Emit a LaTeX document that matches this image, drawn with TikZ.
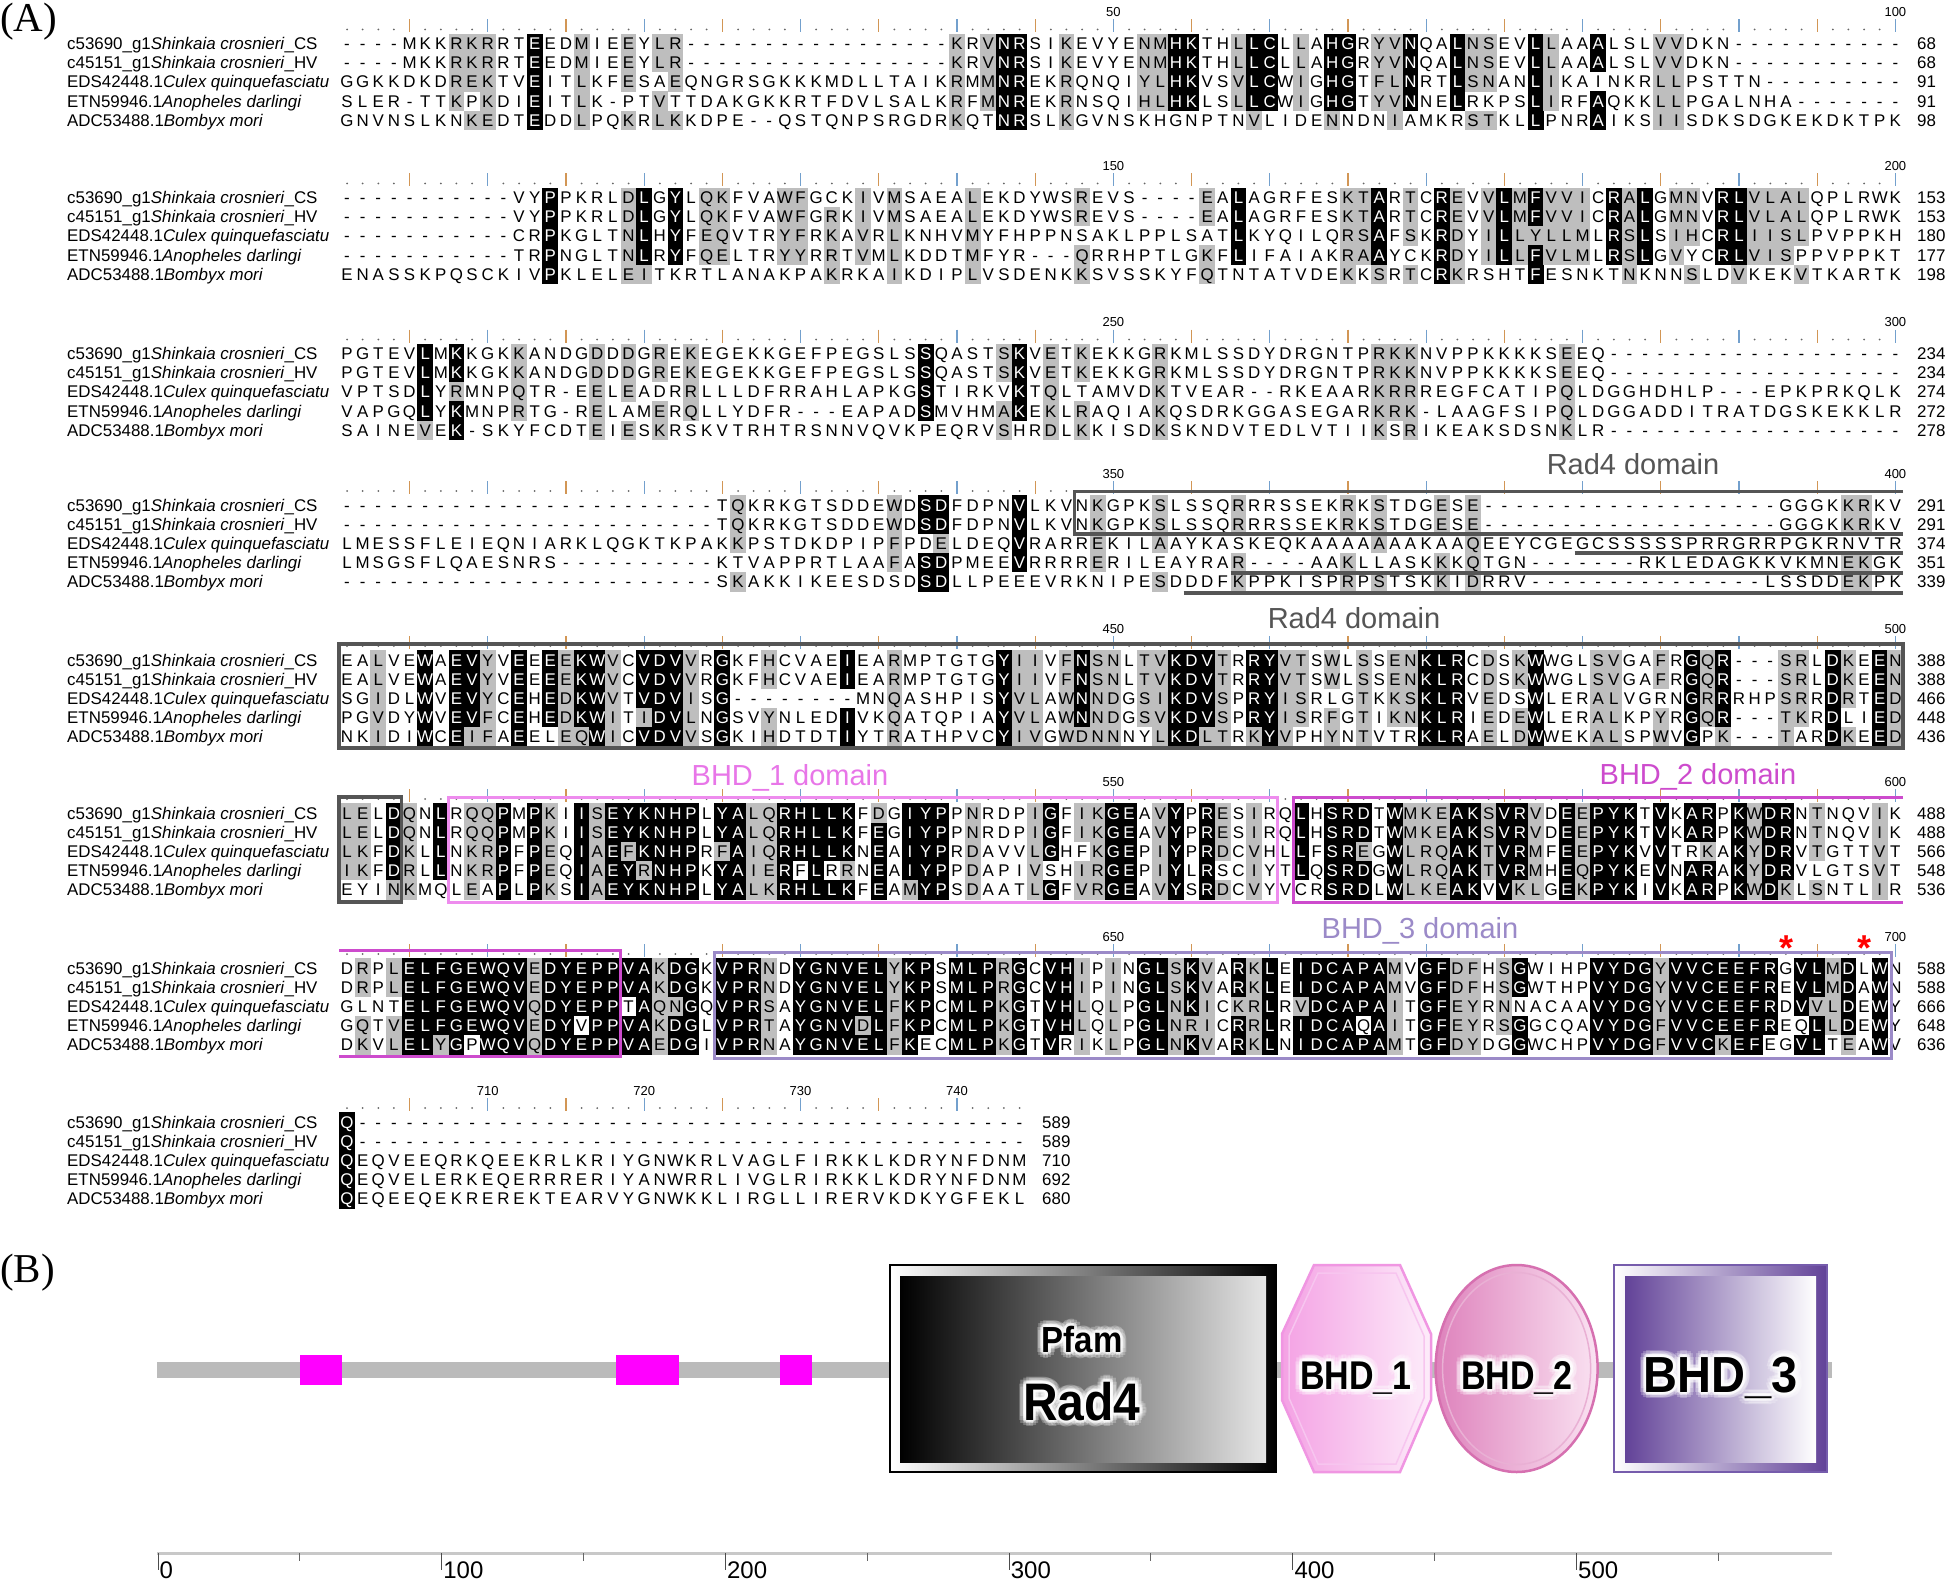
\documentclass[tikz,border=0pt]{standalone}
\usepackage{fontspec}
\usepackage{graphicx}
\setmainfont{Liberation Sans}
\newfontfamily\serifA{Liberation Serif}
\usetikzlibrary{calc}

\definecolor{resgray}{RGB}{190,190,190}
\definecolor{tickora}{RGB}{210,150,85}
\definecolor{tickblu}{RGB}{115,160,205}
\definecolor{radfour}{RGB}{85,85,85}
\definecolor{bhdone}{RGB}{238,140,238}
\definecolor{bhdonetxt}{RGB}{232,118,232}
\definecolor{bhdtwo}{RGB}{205,75,205}
\definecolor{bhdthree}{RGB}{155,138,200}
\definecolor{magbox}{RGB}{255,0,255}
\definecolor{barg}{RGB}{187,187,187}
\definecolor{octL}{RGB}{244,162,228}
\definecolor{octR}{RGB}{253,236,250}
\definecolor{octE}{RGB}{240,150,226}
\definecolor{ellL}{RGB}{222,130,188}
\definecolor{ellR}{RGB}{250,226,242}
\definecolor{ellE}{RGB}{214,112,176}
\definecolor{purD}{RGB}{98,66,152}
\definecolor{purE}{RGB}{118,92,172}
\definecolor{axg}{RGB}{200,200,200}

\newcommand\resfont{\fontsize{16.9}{19}\selectfont}
\newcommand\rlabfont{\fontsize{13}{13}\selectfont}
\newcommand\domfont{\fontsize{29}{29}\selectfont}
\newcommand\axfont{\fontsize{24}{24}\selectfont}

\tikzset{
  res/.style={font=\resfont, inner sep=0pt, anchor=base},
  seqname/.style={font=\resfont, inner sep=0pt, anchor=base west},
  rlab/.style={font=\rlabfont, inner sep=0pt, anchor=base},
  domlab/.style={font=\domfont, inner sep=0pt, anchor=base},
  radline/.style={draw=radfour, line width=3.5pt},
  bhdoneline/.style={draw=bhdone, line width=3pt},
  bhdtwoline/.style={draw=bhdtwo, line width=3pt},
  bhdthreeline/.style={draw=bhdthree, line width=3pt},
  panel/.style={font=\serifA\fontsize{41}{41}\selectfont, inner sep=0pt},
}

\newcommand\ResBox[4]{%
  \ifcase#1\relax
    \node[res] at (#2,#3+6) {#4};%
  \or
    \fill[resgray] (#2-7.9,#3-9.7) rectangle (#2+7.9,#3+9.7);%
    \node[res] at (#2,#3+6) {#4};%
  \or
    \fill[black] (#2-7.9,#3-9.7) rectangle (#2+7.9,#3+9.7);%
    \node[res,text=white] at (#2,#3+6) {#4};%
  \fi}

\newcommand\Ruler[2]{%
  \foreach \c in {1,...,#2}{%
    \pgfmathsetmacro\xx{347+15.64*(\c-1)}%
    \pgfmathtruncatemacro\mf{mod(\c,5)}%
    \pgfmathtruncatemacro\mt{mod(\c,10)}%
    \ifnum\mf=0
      \ifnum\mt=0
        \draw[tickblu, line width=1.2pt] (\xx,#1-24) -- (\xx,#1-11);
      \else
        \draw[tickora, line width=1.2pt] (\xx,#1-24) -- (\xx,#1-11);
      \fi
    \else
      \fill[black!60] (\xx,#1-14) circle[radius=1pt];
    \fi
  }}

\newcommand\RLab[3]{\node[rlab] at ({347+15.64*(#1-1)},#2-27) {#3};}

\newcommand\SeqNames[1]{%
  \node[seqname] at (67,#1+6) {c53690\_g1\textit{Shinkaia crosnieri}\_CS};
  \node[seqname] at (67,#1+25.2) {c45151\_g1\textit{Shinkaia crosnieri}\_HV};
  \node[seqname] at (67,#1+44.4) {EDS42448.1\textit{Culex quinquefasciatu}};
  \node[seqname] at (67,#1+63.6) {ETN59946.1\textit{Anopheles darlingi}};
  \node[seqname] at (67,#1+82.8) {ADC53488.1\textit{Bombyx mori}};}

\newcommand\SeqNums[7]{%
  \node[seqname] at (#2,#1+6) {#3};
  \node[seqname] at (#2,#1+25.2) {#4};
  \node[seqname] at (#2,#1+44.4) {#5};
  \node[seqname] at (#2,#1+63.6) {#6};
  \node[seqname] at (#2,#1+82.8) {#7};}

\newcommand\GlowText[5]{%
  \foreach \ang in {0,30,...,330}{%
    \node[inner sep=0pt, anchor=base, font=#4, text=white, opacity=0.45] at ($(#2,#3)+(\ang:3)$) {#5};
    \node[inner sep=0pt, anchor=base, font=#4, text=white, opacity=0.25] at ($(#2,#3)+(\ang:6.5)$) {#5};
  }%
  \node[inner sep=0pt, anchor=base, font=#4] (#1) at (#2,#3) {#5};}

\ExplSyntaxOn
\str_const:Nn \c_aln_sim_str {,AS,SA,RK,KR,RQ,QR,ND,DN,NH,HN,NS,SN,DE,ED,QE,EQ,QK,KQ,EK,KE,HY,YH,IL,LI,IM,MI,IV,VI,LM,ML,LV,VL,MV,VM,FW,WF,FY,YF,ST,TS,WY,YW,}
\int_step_inline:nn {5}
  {
    \tl_new:c { l_aln_r #1 _str }
    \tl_new:c { l_aln_c #1 _tl }
  }
\cs_generate_variant:Nn \str_item:Nn { c }
\tl_new:N \l_aln_cand_tl
\tl_new:N \l_aln_other_tl
\tl_new:N \l_aln_idcons_tl
\tl_new:N \l_aln_simcons_tl
\tl_new:N \l_aln_cons_tl
\tl_new:N \l_aln_tmp_tl
\int_new:N \l_aln_id_int
\int_new:N \l_aln_sim_int
\int_new:N \l_aln_bestid_int
\int_new:N \l_aln_bestsim_int
\int_new:N \l_aln_simconsid_int
\int_new:N \l_aln_mode_int
\int_new:N \l_aln_style_int
\fp_new:N \l_aln_x_fp
\fp_new:N \l_aln_y_fp

\prg_new_protected_conditional:Npnn \aln_if_similar:nn #1#2 { TF }
  {
    \str_if_eq:nnTF {#1} {#2}
      { \prg_return_true: }
      {
        \str_if_in:NnTF \c_aln_sim_str { , #1 #2 , }
          { \prg_return_true: }
          { \prg_return_false: }
      }
  }
\prg_generate_conditional_variant:Nnn \aln_if_similar:nn { VV } { TF }

\cs_new_protected:Npn \aln_count:
  {
    \int_zero:N \l_aln_id_int
    \int_zero:N \l_aln_sim_int
    \int_step_inline:nn {5}
      {
        \tl_set_eq:Nc \l_aln_other_tl { l_aln_c ##1 _tl }
        \str_if_eq:VVTF \l_aln_other_tl \l_aln_cand_tl
          { \int_incr:N \l_aln_id_int \int_incr:N \l_aln_sim_int }
          {
            \aln_if_similar:VVTF \l_aln_other_tl \l_aln_cand_tl
              { \int_incr:N \l_aln_sim_int } { }
          }
      }
  }

\cs_new_protected:Npn \aln_column:nn #1#2
  {
    \int_step_inline:nn {5}
      {
        \tl_set:cx { l_aln_c ##1 _tl } { \str_item:cn { l_aln_r ##1 _str } {#1} }
      }
    \int_zero:N \l_aln_bestid_int
    \int_zero:N \l_aln_bestsim_int
    \int_zero:N \l_aln_simconsid_int
    \tl_clear:N \l_aln_idcons_tl
    \tl_clear:N \l_aln_simcons_tl
    \int_step_inline:nn {5}
      {
        \tl_set_eq:Nc \l_aln_cand_tl { l_aln_c ##1 _tl }
        \str_if_eq:VnF \l_aln_cand_tl { - }
          {
            \aln_count:
            \int_compare:nNnT \l_aln_id_int > \l_aln_bestid_int
              {
                \int_set_eq:NN \l_aln_bestid_int \l_aln_id_int
                \tl_set_eq:NN \l_aln_idcons_tl \l_aln_cand_tl
              }
            \bool_lazy_or:nnT
              { \int_compare_p:nNn \l_aln_sim_int > \l_aln_bestsim_int }
              {
                \bool_lazy_and_p:nn
                  { \int_compare_p:nNn \l_aln_sim_int = \l_aln_bestsim_int }
                  { \int_compare_p:nNn \l_aln_id_int > \l_aln_simconsid_int }
              }
              {
                \int_set_eq:NN \l_aln_bestsim_int \l_aln_sim_int
                \int_set_eq:NN \l_aln_simconsid_int \l_aln_id_int
                \tl_set_eq:NN \l_aln_simcons_tl \l_aln_cand_tl
              }
          }
      }
    \int_set:Nn \l_aln_mode_int { 0 }
    \int_compare:nNnTF \l_aln_bestid_int > 3
      {
        \int_set:Nn \l_aln_mode_int { 2 }
        \tl_set_eq:NN \l_aln_cons_tl \l_aln_idcons_tl
      }
      {
        \int_compare:nNnT \l_aln_bestsim_int > 3
          {
            \int_set:Nn \l_aln_mode_int { 1 }
            \tl_set_eq:NN \l_aln_cons_tl \l_aln_simcons_tl
          }
      }
    \fp_set:Nn \l_aln_x_fp { 347 + 15.64 * ( #1 - 1 ) }
    \int_step_inline:nn {5}
      {
        \tl_set_eq:Nc \l_aln_cand_tl { l_aln_c ##1 _tl }
        \fp_set:Nn \l_aln_y_fp { #2 + 19.2 * ( ##1 - 1 ) }
        \int_zero:N \l_aln_style_int
        \int_compare:nNnT \l_aln_mode_int > 0
          {
            \str_if_eq:VnF \l_aln_cand_tl { - }
              {
                \bool_lazy_and:nnTF
                  { \int_compare_p:nNn \l_aln_mode_int = 2 }
                  { \str_if_eq_p:VV \l_aln_cand_tl \l_aln_cons_tl }
                  { \int_set:Nn \l_aln_style_int { 2 } }
                  {
                    \aln_if_similar:VVTF \l_aln_cand_tl \l_aln_cons_tl
                      { \int_set:Nn \l_aln_style_int { 1 } } { }
                  }
              }
          }
        \use:x
          {
            \exp_not:N \ResBox
              { \int_use:N \l_aln_style_int }
              { \fp_use:N \l_aln_x_fp }
              { \fp_use:N \l_aln_y_fp }
              { \exp_not:V \l_aln_cand_tl }
          }
      }
  }

\cs_new_protected:Npn \aln_setrow:nn #1#2
  {
    \tl_set:Nn \l_aln_tmp_tl {#2}
    \tl_remove_all:Nn \l_aln_tmp_tl { ~ }
    \tl_set:cx { l_aln_r #1 _str } { \tl_to_str:N \l_aln_tmp_tl }
  }

\cs_new_protected:Npn \aln_block:nnnnnnn #1#2#3#4#5#6#7
  {
    \aln_setrow:nn {1} {#3}
    \aln_setrow:nn {2} {#4}
    \aln_setrow:nn {3} {#5}
    \aln_setrow:nn {4} {#6}
    \aln_setrow:nn {5} {#7}
    \int_step_inline:nn {#2} { \aln_column:nn {##1} {#1} }
  }
\NewDocumentCommand \AlnBlock { m m m m m m m }
  { \aln_block:nnnnnnn {#1} {#2} {#3} {#4} {#5} {#6} {#7} }
\ExplSyntaxOff

\begin{document}
\begin{tikzpicture}[x=1pt,y=-1pt]
\useasboundingbox (0,0) rectangle (1946,1581);
\fill[white] (0,0) rectangle (1946,1581);

\node[panel, anchor=base west] (labA) at (0,32) {(A)};
\node[panel, anchor=base west] (labB) at (0,1282) {(B)};

% ---------- rulers ----------
\Ruler{43.5}{100}\RLab{50}{43.5}{50}\RLab{100}{43.5}{100}
\Ruler{197.5}{100}\RLab{50}{197.5}{150}\RLab{100}{197.5}{200}
\Ruler{353.5}{100}\RLab{50}{353.5}{250}\RLab{100}{353.5}{300}
\Ruler{505}{100}\RLab{50}{505}{350}\RLab{100}{505}{400}
\Ruler{660}{100}\RLab{50}{660}{450}\RLab{100}{660}{500}
\Ruler{813}{100}\RLab{50}{813}{550}\RLab{100}{813}{600}
\Ruler{968}{100}\RLab{50}{968}{650}\RLab{100}{968}{700}
\Ruler{1122}{44}\RLab{10}{1122}{710}\RLab{20}{1122}{720}\RLab{30}{1122}{730}\RLab{40}{1122}{740}

% ---------- names ----------
\SeqNames{43.5}\SeqNames{197.5}\SeqNames{353.5}\SeqNames{505}
\SeqNames{660}\SeqNames{813}\SeqNames{968}\SeqNames{1122}

% ---------- block 1 ----------
\AlnBlock{43.5}{100}
{----MKKRKR RTEEDMIEEY LR-------- ---------K RVNRSIKEVY ENMHKTHLLC LLAHGRYVNQ ALNSEVLLAA ALSLVVDKN- ----------}
{----MKKRKR RTEEDMIEEY LR-------- ---------K RVNRSIKEVY ENMHKTHLLC LLAHGRYVNQ ALNSEVLLAA ALSLVVDKN- ----------}
{GGKKDKDREK TVEITLKFES AEQNGRSGKK KMDLLTAIKR MMNREKRQNQ IYLHKVSVLC WIGHGTFLNR TLSNANLIKA INKRLLPSTT N---------}
{SLER-TTKPK DIEITLK-PT VTTDAKGKKR TFDVLSALKR FMNREKRNSQ IHLHKLSLLC WIGHGTYVNN ELRKPSLIRF AQKKLLPGAL NHA-------}
{GNVNSLKNKE DTEDDLPQKR LKKDPE--QS TQNPSRGDRK QTNRSLKGVN SKHGNPTNVL IDENNDNIAM KRSTKLLPNR AIKSIISDKS DGKEKDKTPK}
\SeqNums{43.5}{1917}{68}{68}{91}{91}{98}

% ---------- block 2 ----------
\AlnBlock{197.5}{100}
{---------- -VYPPKRLDL GYLQKFVAWF GCKIVMSAEA LEKDYWSREV S----EALAG RFESKTARTC REVVLMFVVI CRALGMNVRL VLALQPLRWK}
{---------- -VYPPKRLDL GYLQKFVAWF GRKIVMSAEA LEKDYWSREV S----EALAG RFESKTARTC REVVLMFVVI CRALGMNVRL VLALQPLRWK}
{---------- -CRPKGLTNL HYFEQVTRYF RKAVRLKNHV MYFHPPNSAK LPPLSATLKY QILQRSAFSK RDYILLYLLM LRSLSIHCRL IISLPVPPKH}
{---------- -TRPNGLTNL RYFQELTRYY RRTVMLKDDT MFYR---QRR HPTLGKFLIF AIAKRAAYCK RDYILLFVLM LRSLGVYCRL VISPPVPPKT}
{ENASSKPQSC KIVPKLELEI TKRTLANAKP AKRKAIKDIP LVSDENKKSV SSKYFQTNTA TVDEKKSRTC RKRSHTFESN KTNKNNSLDV KEKVTKARTK}
\SeqNums{197.5}{1917}{153}{153}{180}{177}{198}

% ---------- block 3 ----------
\AlnBlock{353.5}{100}
{PGTEVLMKKG KKANDGDDDG REKEGEKKGE FPEGSLSSQA STSKVETKEK KGRKMLSSDY DRGNTPRKKN VPPKKKKSEE Q--------- ----------}
{PGTEVLMKKG KKANDGDDDG REKEGEKKGE FPEGSLSSQA STSKVETKEK KGRKMLSSDY DRGNTPRKKN VPPKKKKSEE Q--------- ----------}
{VPTSDLYRMN PQTR-EELEA DRRLLLDFRR AHLAPKGSTI RKVKTQLTAM VDKTVEAR-- RKEAARKRRR EGFCATIPQL DGGHDHLP-- -EPKPRKQLK}
{VAPGQLYKMN PRTG-RELAM ERQLLYDFR- --EAPADSMV HMAKEKLRAQ IAKQSDRKGG ASEGARKRK- LAAGFSIPQL DGGADDITRA TDGSKEKKLR}
{SAINEVEK-S KYFCDTEIES KRSKVTRHTR SNNVQVKPEQ RVSHRDLKKI SDKSKNDVTE DLVTIIKSRI KEAKSDSNKL R--------- ----------}
\SeqNums{353.5}{1917}{234}{234}{274}{272}{278}

% ---------- block 4 ----------
\AlnBlock{505}{100}
{---------- ---------- ----TQKRKG TSDDEWDSDF DPNVLKVNKG PKSLSSQRRR SSEKRKSTDG ESE------- ---------- --GGGKKRKV}
{---------- ---------- ----TQKRKG TSDDEWDSDF DPNVLKVNKG PKSLSSQRRR SSEKRKSTDG ESE------- ---------- --GGGKKRKV}
{LMESSFLEIE QNIARKLQGK TKPAKKPSTD KDPIPFPDEL DEQVRARREK ILAAYKASKE QKAAAAAAAK AAQEEYCGEG CSSSSSPRRG RRPGKRNVTR}
{LMSGSFLQAE SNRS------ ----KTVAPP RTLAAFASDP MEEVRRRRER ILEAYRAR-- --AAKLLASK KKQTGN---- ---RKLEDAG KKVKMNEKGK}
{---------- ---------- ----SKAKKI KEESDSDSDL LPEEEVRKNI PESDDDFKPP KISPRPSTSK KIDRRV---- ---------- -LSSDDEKPK}
\SeqNums{505}{1917}{291}{291}{374}{351}{339}

% ---------- block 5 ----------
\AlnBlock{660}{100}
{EALVEWAEVY VEEEEKWVCV DVVRGKFHCV AEIEARMPTG TGYIIVFNSN LTVKDVTRRY VTSWLSSENK LRCDSKWWGL SVGAFRGQR- --SRLDKEEN}
{EALVEWAEVY VEEEEKWVCV DVVRGKFHCV AEIEARMPTG TGYIIVFNSN LTVKDVTRRY VTSWLSSENK LRCDSKWWGL SVGAFRGQR- --SRLDKEEN}
{SGIDLWVEVY CEHEDKWVTV DVISG----- ---MNQASHP ISYVLAWNND GSIKDVSPRY ISRLGTKKSK LRVEDSWLER ALVGRNGRRR HPSRRDRTED}
{PGVDYWVEVF CEHEDKWITI DVLNGSVYNL EDIVKQATQP IAYVLAWNND GSVKDVSPRY ISRFGTIKNK LRIEDEWLER ALKPYRGQR- --TKRDLIED}
{NKIDIWCEIF AEELEQWICV DVVSGKIHDT DTIYTRATHP VCYIVGWDNN NYLKDLTRKY VPHYNTVTRK LRAELDWWEK ALSPWVGPK- --TARDKEED}
\SeqNums{660}{1917}{388}{388}{466}{448}{436}

% ---------- block 6 ----------
\AlnBlock{813}{100}
{LELDQNLRQQ PMPKIISEYK NHPLYALQRH LLKFDGIYPP NRDPIGFIKG EAVYPRESIR QLHSRDTWMK EAKSVRVDEE PYKTVKARPK WDRNTNQVIK}
{LELDQNLRQQ PMPKIISEYK NHPLYALQRH LLKFEGIYPP NRDPIGFIKG EAVYPRESIR QLHSRDTWMK EAKSVRVDEE PYKTVKARPK WDRNTNQVIK}
{LKFDKLLNKR PFPEQIAEFK NHPRFAIQRH LLKNEAIYPR DAVVLGHFKG EPIYPRDCVH LLFSREGWLR QAKTVRMFEE PYKVVTRKAK YDRVTGTTVT}
{IKFDRLLNKR PFPEQIAEYR NHPKYAIERF LRRNEAIYPP DAPIVSHIRG EPIYLRSCIY TLQSRDGWLR QAKTVRMHEQ PYKEVNARAK YDRVLGTSVT}
{EYINKMQLEA PLPKSIAEYK NHPLYALKRH LLKFEAMYPS DAATLGFVRG EAVYSRDCVY VCRSRDLWLK EAKVVKLGEK PYKIVKARPK WDKLSNTLIR}
\SeqNums{813}{1917}{488}{488}{566}{548}{536}

% ---------- block 7 ----------
\AlnBlock{968}{100}
{DRPLELFGEW QVEDYEPPVA KDGKVPRNDY GNVELYKPSM LPRGCVHIPI NGLSKVARKL EIDCAPAMVG FDFHSGWIHP VYDGYVVCEE FRGVLMDLWN}
{DRPLELFGEW QVEDYEPPVA KDGKVPRNDY GNVELYKPSM LPRGCVHIPI NGLSKVARKL EIDCAPAMVG FDFHSGWTHP VYDGYVVCEE FREVLMDAWN}
{GLNTELFGEW QVQDYEPPTA QNGQVPRSAY GNVELFKPCM LPKGTVHLQL PGLNKICKRL RVDCAPAITG FEYRNNACAA VYDGYVVCEE FRDVVLDEWY}
{GQTVELFGEW QVEDYVPPVA KDGLVPRTAY GNVDLFKPCM LPKGTVHLQL PGLNRICRRL RIDCAQAITG FEYRSGGCQA VYDGFVVCEE FREQLLDEWY}
{DKVLELYGPW QVQDYEPPVA EDGIVPRNAY GNVELFKECM LPKGTVRIKL PGLNKVARKL NIDCAPAMTG FDYDGGWCHP VYDGFVVCKE FEGVLTEAWV}
\SeqNums{968}{1917}{588}{588}{666}{648}{636}

% ---------- block 8 ----------
\AlnBlock{1122}{44}
{Q--------- ---------- ---------- ---------- ----}
{Q--------- ---------- ---------- ---------- ----}
{QEQVEEQRKQ EEKRLKRIYG NWKRLVAGLF IRKKLKDRYN FDNM}
{QEQVELERKE QERRRERIYA NWRRLIVGLR IRKKLKDRYN FDNM}
{QEQEEQEKRE REKTEARVYG NWKKLIRGLL IRERVKDKYG FEKL}
\SeqNums{1122}{1042}{589}{589}{710}{692}{680}

% ---------- domain boxes ----------
\draw[radline] (1903.2,491.5) -- (1074.3,491.5) -- (1074.3,534) -- (1903.2,534);
\draw[radline] (1574.7,553) -- (1903.2,553);
\draw[radline] (1230.7,573) -- (1903.2,573);
\draw[radline] (1183.7,593) -- (1903.2,593);
\draw[radline] (339.2,644) rectangle (1903.2,748);
\draw[radline] (339.2,797) rectangle (401.7,902);
\draw[bhdoneline] (448.7,797) rectangle (1277.6,902);
\draw[bhdtwoline] (1903.2,797) -- (1293.2,797) -- (1293.2,902) -- (1903.2,902);
\draw[bhdtwoline] (339.2,950) -- (620.7,950) -- (620.7,1056) -- (339.2,1056);
\draw[bhdthreeline] (714.5,952) rectangle (1891,1058);

\node[domlab, text=radfour] (radlabA) at (1633,474.5) {Rad4 domain};
\node[domlab, text=radfour] (radlabB) at (1354,628.5) {Rad4 domain};
\node[domlab, text=bhdonetxt] (bonelab) at (790,785) {BHD\_1 domain};
\node[domlab, text=bhdtwo] (btwolab) at (1698,784) {BHD\_2 domain};
\node[domlab, text=bhdthree] (bthreelab) at (1420,938) {BHD\_3 domain};
\node[text=red, font=\fontsize{36}{36}\selectfont\bfseries, inner sep=0pt, anchor=base] (astA) at (1786.4,960) {*};
\node[text=red, font=\fontsize{36}{36}\selectfont\bfseries, inner sep=0pt, anchor=base] (astB) at (1864.6,960) {*};

% ---------- part B ----------
\fill[barg] (157,1362) rectangle (1832,1378);
\fill[magbox] (300,1355) rectangle (342,1385);
\fill[magbox] (616,1355) rectangle (679,1385);
\fill[magbox] (780,1355) rectangle (812,1385);

\shadedraw[left color=white, right color=black, draw=black, line width=2pt] (890,1265) rectangle (1276,1472);
\shade[left color=black, right color=white!90!black] (900,1276) rectangle (1266,1462);
\GlowText{pfam}{1082}{1352}{\fontsize{33}{33}\selectfont\bfseries}{\scalebox{1}[1.1]{Pfam}}
\GlowText{radfourtxt}{1082}{1420}{\fontsize{48}{48}\selectfont\bfseries}{\scalebox{1}[1.1]{Rad4}}

\shadedraw[left color=octL, right color=octR, draw=octE, line width=2.5pt]
  (1314,1265) -- (1400,1265) -- (1431,1334) -- (1431,1400) -- (1400,1472) -- (1314,1472) -- (1282,1400) -- (1282,1334) -- cycle;
\draw[white!45!octE, line width=1.5pt]
  (1318,1273) -- (1396,1273) -- (1424,1336) -- (1424,1398) -- (1396,1464) -- (1318,1464) -- (1289,1398) -- (1289,1336) -- cycle;
\GlowText{bone}{1356}{1389}{\fontsize{34}{34}\selectfont\bfseries}{\scalebox{1}[1.18]{BHD\_1}}

\shadedraw[left color=ellL, right color=ellR, draw=ellE, line width=2.5pt] (1516.6,1368.5) ellipse [x radius=81pt, y radius=103.5pt];
\draw[white!45!ellE, line width=1.5pt] (1516.6,1368.5) ellipse [x radius=74pt, y radius=96pt];
\GlowText{btwo}{1517}{1389}{\fontsize{34}{34}\selectfont\bfseries}{\scalebox{1}[1.18]{BHD\_2}}

\shadedraw[left color=white, right color=purD, draw=purE, line width=2pt] (1614,1265) rectangle (1827,1472);
\shade[left color=purD, right color=white] (1625,1276) rectangle (1816,1462);
\GlowText{bthree}{1721}{1392}{\fontsize{47}{47}\selectfont\bfseries}{\scalebox{1}[1.08]{BHD\_3}}

% axis
\draw[axg, line width=3pt] (157,1553) -- (1832,1553);
\foreach \k in {0,...,5}{
  \pgfmathsetmacro\ax{158+283.7*\k}
  \pgfmathtruncatemacro\lab{100*\k}
  \draw[black!70, line width=1pt] (\ax,1553) -- (\ax,1570);
  \node[font=\axfont, inner sep=0pt, anchor=base west] at (\ax+1.5,1578) {\lab};
  \draw[black!60, line width=1pt] (\ax+141.85,1553) -- (\ax+141.85,1561);
}
\end{tikzpicture}
\end{document}
